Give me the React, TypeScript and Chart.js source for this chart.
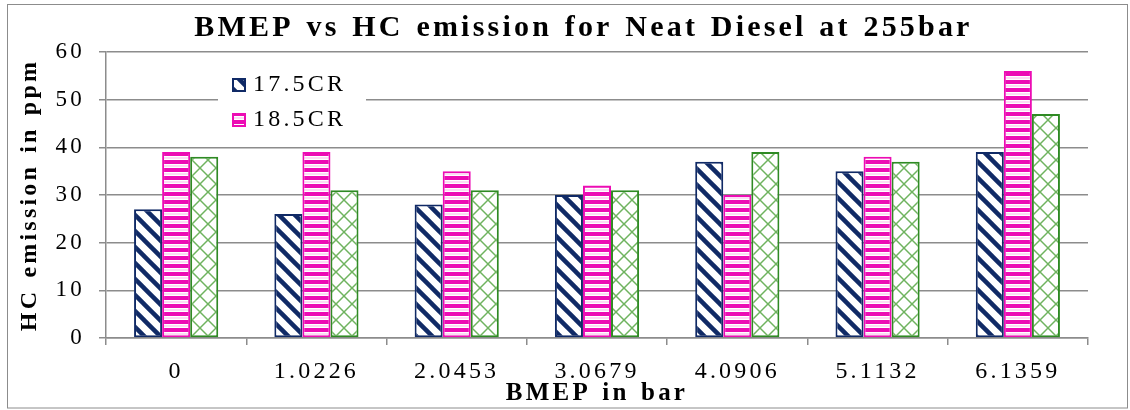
import React, { useEffect, useRef } from "react";
import { Chart, registerables } from "chart.js";

Chart.register(...registerables);

// ---- data ----
const categories = ["0", "1.0226", "2.0453", "3.0679", "4.0906", "5.1132", "6.1359"];
const cr175 = [27, 26, 28, 30, 37, 35, 39];
const cr185 = [39, 39, 35, 32, 30, 38, 56];
const cr195 = [38, 31, 31, 31, 39, 37, 47];
const seriesNames = ["17.5CR", "18.5CR", "19.5CR"];
const legendCount = 2; // only the first two entries are visible in the legend box
const yMin = 0;
const yMax = 60;
const yStep = 10;

const titleText = "BMEP vs HC emission for Neat Diesel at 255bar";
const xTitle = "BMEP in bar";
const yTitle = "HC emission in ppm";

// ---- styles ----
const SERIF = "'Liberation Serif', 'Times New Roman', Times, serif";
const NAVY = "#102a66";
const PINK = "#ec0cb4";
const GREEN = "#2f8a24";
const GRID = "#8c8c8c";

function makeTile(size: number, draw: (g: CanvasRenderingContext2D) => void) {
  const c = document.createElement("canvas");
  c.width = size;
  c.height = size;
  const g = c.getContext("2d") as CanvasRenderingContext2D;
  g.fillStyle = "#ffffff";
  g.fillRect(0, 0, size, size);
  draw(g);
  return g.createPattern(c, "repeat") as CanvasPattern;
}

function diagonalPattern() {
  const s = 16;
  return makeTile(s, (g) => {
    g.strokeStyle = NAVY;
    g.lineWidth = 4.5;
    for (const o of [-s, 0, s]) {
      g.beginPath();
      g.moveTo(o - 3, -3);
      g.lineTo(o + s + 3, s + 3);
      g.stroke();
    }
  });
}

function horizontalPattern() {
  const s = 8;
  return makeTile(s, (g) => {
    g.fillStyle = PINK;
    g.fillRect(0, 0, s, 4);
    g.fillStyle = "rgba(236,12,180,0.3)";
    g.fillRect(0, 5.5, s, 1);
  });
}

function crossPattern() {
  const s = 16;
  return makeTile(s, (g) => {
    g.strokeStyle = "#6fb35f";
    g.lineWidth = 1.5;
    for (const o of [-s, 0, s]) {
      g.beginPath();
      g.moveTo(o - 3, -3);
      g.lineTo(o + s + 3, s + 3);
      g.stroke();
      g.beginPath();
      g.moveTo(o + s + 3, -3);
      g.lineTo(o - 3, s + 3);
      g.stroke();
    }
  });
}

function applySpacing(ctx: any) {
  ctx.letterSpacing = "3.2px";
  ctx.wordSpacing = "2px";
}

const spacingPlugin = {
  id: "spacing",
  afterInit(chart: any) {
    applySpacing(chart.ctx);
  },
  beforeUpdate(chart: any) {
    applySpacing(chart.ctx);
  },
  beforeDraw(chart: any) {
    applySpacing(chart.ctx);
  },
};

const framePlugin = {
  id: "frame",
  beforeDraw(chart: any) {
    const { ctx, width, height } = chart;
    ctx.save();
    ctx.fillStyle = "#ffffff";
    ctx.fillRect(0, 0, width, height);
    ctx.strokeStyle = GRID;
    ctx.lineWidth = 1;
    ctx.strokeRect(7.5, 4.5, width - 10, height - 6.5);
    ctx.restore();
  },
};

const boxLegendPlugin = {
  id: "boxLegend",
  afterDatasetsDraw(chart: any) {
    const { ctx, chartArea } = chart;
    const x0 = chartArea.left + 112;
    const y0 = chartArea.top + 15;
    ctx.save();
    ctx.fillStyle = "#ffffff";
    ctx.fillRect(x0, y0, 148, 70);
    ctx.font = `24px ${SERIF}`;
    ctx.textBaseline = "middle";
    ctx.textAlign = "left";
    chart.data.datasets.slice(0, legendCount).forEach((ds: any, i: number) => {
      const cy = y0 + 18 + i * 35;
      const sx = x0 + 14;
      const sy = cy - 7;
      ctx.fillStyle = ds.backgroundColor;
      ctx.fillRect(sx, sy, 14, 14);
      ctx.strokeStyle = ds.borderColor;
      ctx.lineWidth = 2;
      ctx.strokeRect(sx + 1, sy + 1, 12, 12);
      ctx.fillStyle = "#000000";
      ctx.fillText(ds.label, sx + 21, cy);
    });
    ctx.restore();
  },
};

export default function App() {
  const ref = useRef<HTMLCanvasElement | null>(null);

  useEffect(() => {
    document.body.style.margin = "0";
    const canvas = ref.current;
    if (!canvas) return;
    const chart = new Chart(canvas, {
      type: "bar",
      data: {
        labels: categories,
        datasets: [
          {
            label: seriesNames[0],
            data: cr175,
            backgroundColor: diagonalPattern(),
            borderColor: NAVY,
            borderWidth: 2,
            borderSkipped: false,
          },
          {
            label: seriesNames[1],
            data: cr185,
            backgroundColor: horizontalPattern(),
            borderColor: PINK,
            borderWidth: 2,
            borderSkipped: false,
          },
          {
            label: seriesNames[2],
            data: cr195,
            backgroundColor: crossPattern(),
            borderColor: GREEN,
            borderWidth: 2,
            borderSkipped: false,
          },
        ],
      },
      options: {
        responsive: false,
        animation: false,
        events: [],
        layout: { padding: { left: 37, right: 0, top: 0, bottom: 0 } },
        datasets: {
          bar: { categoryPercentage: 0.6, barPercentage: 1 },
        },
        plugins: {
          legend: { display: false },
          tooltip: { enabled: false },
          title: {
            display: true,
            text: titleText,
            color: "#000000",
            font: { family: SERIF, size: 30, weight: "bold" },
            padding: { top: 10, bottom: 6 },
          },
        },
        scales: {
          x: {
            offset: true,
            grid: {
              display: true,
              drawOnChartArea: false,
              drawTicks: true,
              tickLength: 7,
              color: GRID,
              lineWidth: 1.5,
              offset: true,
            },
            border: { display: true, color: GRID, width: 1.5 },
            ticks: {
              color: "#000000",
              font: { family: SERIF, size: 24 },
              padding: 12,
              maxRotation: 0,
              autoSkip: false,
            },
            title: {
              display: true,
              text: xTitle,
              color: "#000000",
              font: { family: SERIF, size: 25, weight: "bold" },
              padding: { top: 0, bottom: 1.6 },
            },
            afterFit: (s: any) => {
              s.height = 72;
              s.paddingRight = 42;
              s.paddingLeft = 0;
            },
          },
          y: {
            min: yMin,
            max: yMax,
            ticks: {
              stepSize: yStep,
              color: "#000000",
              font: { family: SERIF, size: 23 },
              padding: 14,
            },
            grid: { color: GRID, lineWidth: 1.5, tickLength: 7, drawTicks: true },
            border: { display: true, color: GRID, width: 1.5 },
            title: {
              display: true,
              text: yTitle,
              color: "#000000",
              font: { family: SERIF, size: 24, weight: "bold" },
              padding: { top: -21.4, bottom: 0 },
            },
            afterFit: (s: any) => {
              s.width = 69;
            },
          },
        },
      } as any,
      plugins: [spacingPlugin, framePlugin, boxLegendPlugin],
    });
    return () => chart.destroy();
  }, []);

  return (
    <div style={{ width: 1130, height: 410 }}>
      <canvas ref={ref} width={1130} height={410} style={{ display: "block", width: 1130, height: 410 }} />
    </div>
  );
}
